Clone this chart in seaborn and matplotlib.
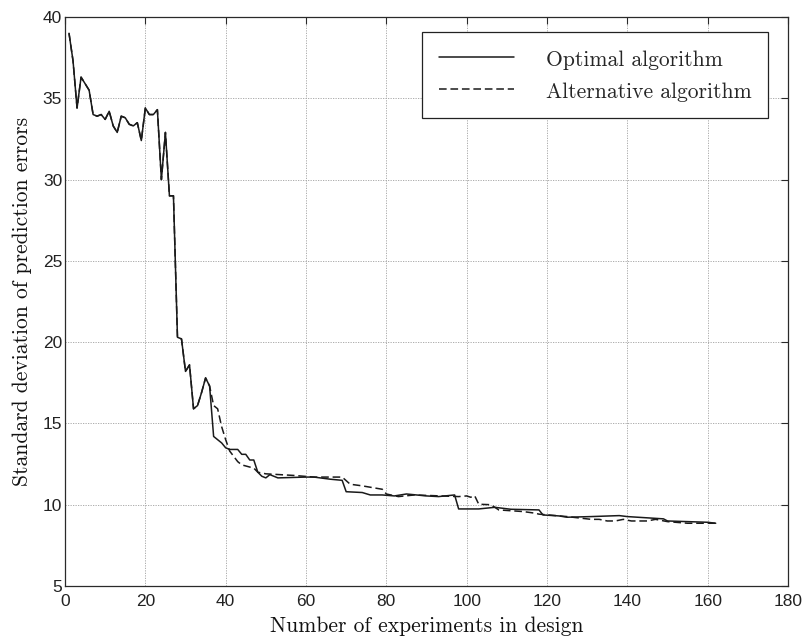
import numpy as np
import pandas as pd
import matplotlib
matplotlib.use("Agg")
import matplotlib.pyplot as plt
import seaborn as sns

# ---- data ----
x_common = [1, 2, 3, 4, 6, 7, 8, 9, 10, 11, 12, 13, 14, 15, 16, 17, 18, 19, 20,
            21, 22, 23, 24, 25, 26, 27, 28, 29, 30, 31, 32, 33, 34, 35, 36]
y_common = [39.0, 37.3, 34.4, 36.3, 35.5, 34.0, 33.9, 34.0, 33.7, 34.2, 33.3, 32.9,
            33.9, 33.8, 33.4, 33.3, 33.5, 32.4, 34.4, 34.0, 34.0, 34.3, 30.0, 32.9,
            29.0, 29.0, 20.3, 20.2, 18.2, 18.6, 15.9, 16.1, 16.9, 17.8, 17.3]

x_opt_tail = [37, 39, 40, 41, 43, 44, 45, 46, 47, 48, 49, 50, 51, 53, 60, 62, 66, 69,
              70, 74, 76, 79, 82, 85, 90, 93, 97, 98, 103, 107, 111, 118, 119, 123,
              125, 131, 138, 140, 149, 150, 155, 160, 162]
y_opt_tail = [14.2, 13.8, 13.5, 13.4, 13.4, 13.1, 13.1, 12.75, 12.75, 12.0, 11.75,
              11.65, 11.85, 11.65, 11.7, 11.7, 11.57, 11.5, 10.8, 10.75, 10.6, 10.6,
              10.54, 10.66, 10.54, 10.5, 10.6, 9.74, 9.74, 9.84, 9.72, 9.68, 9.37,
              9.31, 9.23, 9.27, 9.33, 9.27, 9.13, 9.0, 8.96, 8.92, 8.86]

x_alt_tail = [37, 38, 39, 40, 41, 43, 44, 47, 48, 50, 57, 62, 69, 71, 74, 79, 80, 83,
              87, 98, 100, 101, 102, 103, 106, 108, 114, 117, 118, 125, 131, 133, 135,
              137, 139, 141, 145, 147, 150, 155, 162]
y_alt_tail = [16.1, 15.9, 14.8, 14.0, 13.3, 12.65, 12.45, 12.25, 12.0, 11.9, 11.8,
              11.7, 11.7, 11.26, 11.16, 10.95, 10.66, 10.5, 10.6, 10.5, 10.54, 10.46,
              10.55, 10.03, 10.0, 9.68, 9.58, 9.48, 9.42, 9.27, 9.1, 9.1, 9.0, 9.0,
              9.1, 9.0, 9.0, 9.1, 8.96, 8.86, 8.86]

x_ticks = [0, 20, 40, 60, 80, 100, 120, 140, 160, 180]
y_ticks = [5, 10, 15, 20, 25, 30, 35, 40]

label_opt = "Optimal algorithm"
label_alt = "Alternative algorithm"
xlabel = "Number of experiments in design"
ylabel = "Standard deviation of prediction errors"

df_opt = pd.DataFrame({"x": x_common + x_opt_tail, "y": y_common + y_opt_tail})
df_alt = pd.DataFrame({"x": x_common + x_alt_tail, "y": y_common + y_alt_tail})

# ---- style ----
sns.set_theme(style="white")
plt.rcParams["font.family"] = ["Liberation Sans", "DejaVu Sans"]

fig = plt.figure(figsize=(8.08, 6.42), dpi=100)
ax = fig.add_axes([65 / 808, 1 - 586 / 642, (788 - 65) / 808, (586 - 17) / 642])

ink = "#1a1a1a"
sns.lineplot(data=df_opt, x="x", y="y", ax=ax, color=ink, linewidth=1.1,
             label=label_opt, sort=False, estimator=None)
sns.lineplot(data=df_alt, x="x", y="y", ax=ax, color=ink, linewidth=1.1,
             linestyle=(0, (5, 2.5)), label=label_alt, sort=False, estimator=None)

ax.set_xlim(0, 180)
ax.set_ylim(5, 40)
ax.set_xticks(x_ticks)
ax.set_yticks(y_ticks)
ax.grid(True, linestyle=(0, (1.5, 1.5)), color="#a0a0a0", linewidth=0.6)
ax.tick_params(direction="in", length=5, width=0.8, colors="#2a2a2a",
               labelcolor="#222222", labelsize=12.5, top=True, right=True)
ax.tick_params(axis="x", pad=6)
ax.tick_params(axis="y", pad=2)
for s in ax.spines.values():
    s.set_color("#2a2a2a")
    s.set_linewidth(0.9)

serif = {"family": "cmr10", "size": 15.5, "color": "#111111"}
ax.set_xlabel(xlabel, fontdict=serif, labelpad=5)
ax.set_ylabel(ylabel, fontdict=serif, labelpad=8)

leg = ax.legend(loc="upper right", bbox_to_anchor=(0.9725, 0.974), borderaxespad=0,
                fancybox=False, framealpha=1, edgecolor="#222222",
                prop={"family": "cmr10", "size": 15.5}, handlelength=3.5,
                handleheight=1.2, handletextpad=1.5, labelspacing=0.45,
                borderpad=0.75)
leg.get_frame().set_linewidth(0.9)

fig.savefig("out.png", dpi=100)
